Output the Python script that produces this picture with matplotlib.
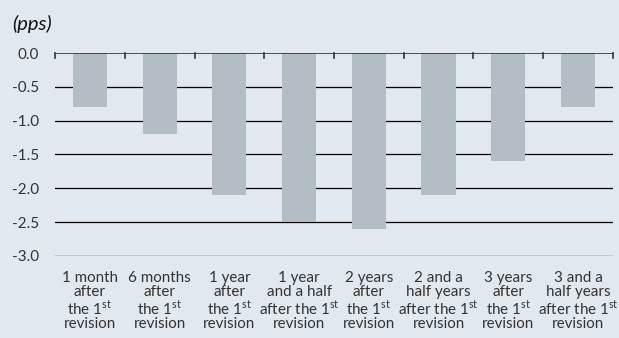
import matplotlib
matplotlib.use("Agg")
import matplotlib.pyplot as plt
import numpy as np

plt.rcParams['font.family'] = ['Lato', 'DejaVu Sans']
plt.rcParams['mathtext.fontset'] = 'custom'
plt.rcParams['mathtext.rm'] = 'Lato'

sup = r"1$^{\rm st}$"
labels = [
    "1 month\nafter\nthe " + sup + "\nrevision",
    "6 months\nafter\nthe " + sup + "\nrevision",
    "1 year\nafter\nthe " + sup + "\nrevision",
    "1 year\nand a half\nafter the " + sup + "\nrevision",
    "2 years\nafter\nthe " + sup + "\nrevision",
    "2 and a\nhalf years\nafter the " + sup + "\nrevision",
    "3 years\nafter\nthe " + sup + "\nrevision",
    "3 and a\nhalf years\nafter the " + sup + "\nrevision",
]
values = [-0.8, -1.2, -2.1, -2.5, -2.6, -2.1, -1.6, -0.8]
yticks = [0.0, -0.5, -1.0, -1.5, -2.0, -2.5, -3.0]

bg = "#e1e9ef"
txt = "#333333"
fig = plt.figure(figsize=(6.19, 3.38), dpi=100, facecolor=bg)
ax = fig.add_axes([0.089, 0.243, 0.901, 0.600])
ax.set_facecolor(bg)

x = np.arange(len(values))
for yv in yticks[1:-1]:
    ax.axhline(yv, color="black", lw=0.9, zorder=1)
ax.axhline(-3.0, color="#555555", lw=1.0, zorder=1)
ax.bar(x, values, width=0.49, color="#b3bec4", zorder=2)
ax.axhline(0, color="#333333", lw=1.2, zorder=3)

ax.set_xlim(-0.5, len(values) - 0.5)
ax.set_ylim(-3.0, 0.0)
ax.set_yticks(yticks)
ax.set_yticklabels(["%.1f" % v for v in yticks], fontsize=11, color=txt)
ax.tick_params(axis="y", length=0, pad=11.5)

ax.set_xticks(x)
ax.set_xticklabels(labels, fontsize=10.9, linespacing=0.98, color=txt)
ax.tick_params(axis="x", length=0, pad=11)
# boundary ticks along the zero line
for b in np.arange(-0.5, len(values), 1.0):
    ax.plot([b, b], [0, -0.07], color="#333333", lw=1.2, zorder=3, clip_on=False)

for s in ax.spines.values():
    s.set_visible(False)

fig.text(0.02, 0.93, "(pps)", fontsize=14.5, style="italic", va="center", color="#111111")

fig.savefig("out.png", dpi=100, facecolor=bg)
